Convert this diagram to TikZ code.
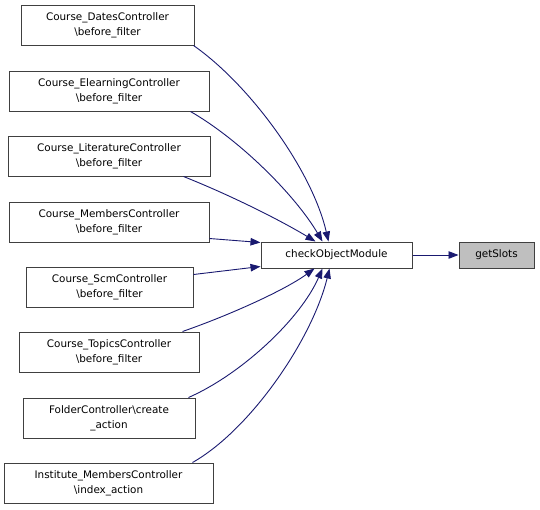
\documentclass[tikz,border=0pt]{standalone}
\usepackage{fontspec}
\setmainfont{DejaVu Sans}
\usetikzlibrary{arrows.meta}
\definecolor{edgeblue}{HTML}{191970}
\definecolor{boxline}{HTML}{404040}
\definecolor{grayfill}{HTML}{BFBFBF}
\tikzset{
  box/.style={draw=boxline, line width=1pt, fill=white, inner sep=0pt, align=center,
    font=\fontsize{10.4pt}{15pt}\selectfont, minimum height=40pt},
  sbox/.style={box, minimum height=26pt},
  edge/.style={draw=edgeblue, line width=0.9pt, -{Triangle[length=10pt,width=7.5pt]}}
}
\begin{document}
\begin{tikzpicture}[x=1pt,y=-1pt]
\useasboundingbox (0,0) rectangle (540,509);
\node[box, minimum width=173pt] (b1) at (107.5,25) {Course\_DatesController\\\textbackslash before\_filter};
\node[box, minimum width=200pt] (b2) at (109,91) {Course\_ElearningController\\\textbackslash before\_filter};
\node[box, minimum width=202pt] (b3) at (109,156) {Course\_LiteratureController\\\textbackslash before\_filter};
\node[box, minimum width=200pt] (b4) at (109,222) {Course\_MembersController\\\textbackslash before\_filter};
\node[box, minimum width=167pt] (b5) at (109.5,287) {Course\_ScmController\\\textbackslash before\_filter};
\node[box, minimum width=180pt] (b6) at (109,352) {Course\_TopicsController\\\textbackslash before\_filter};
\node[box, minimum width=172pt] (b7) at (109,418) {FolderController\textbackslash create\\\_action};
\node[box, minimum width=209pt] (b8) at (108.5,483) {Institute\_MembersController\\\textbackslash index\_action};
\node[sbox, minimum width=151pt] (cm) at (336.5,255) {checkObjectModule};
\node[sbox, minimum width=75pt, fill=grayfill] (gs) at (496.5,255) {getSlots};

\draw[edge] (cm) -- (gs);
\draw[edge] ([xshift=-1pt]b1.south east) .. controls (250,85) and (312,170) .. ([xshift=-8pt]cm.north);
\draw[edge] ([xshift=-19pt]b2.south east) .. controls (240,140) and (295,195) .. ([xshift=-14pt]cm.north);
\draw[edge] ([xshift=-27pt]b3.south east) .. controls (230,195) and (280,220) .. ([xshift=-21pt]cm.north);
\draw[edge] ([yshift=4pt]b4.south east) -- ([yshift=-1pt]cm.north west);
\draw[edge] ([yshift=-8pt]b5.north east) -- ([yshift=2pt]cm.south west);
\draw[edge] ([xshift=-17pt]b6.north east) .. controls (230,315) and (285,290) .. ([xshift=-22pt]cm.south);
\draw[edge] ([xshift=-7pt]b7.north east) .. controls (240,375) and (300,320) .. ([xshift=-14pt]cm.south);
\draw[edge] ([xshift=-21pt]b8.north east) .. controls (250,430) and (312,340) .. ([xshift=-7pt]cm.south);
\end{tikzpicture}
\end{document}
